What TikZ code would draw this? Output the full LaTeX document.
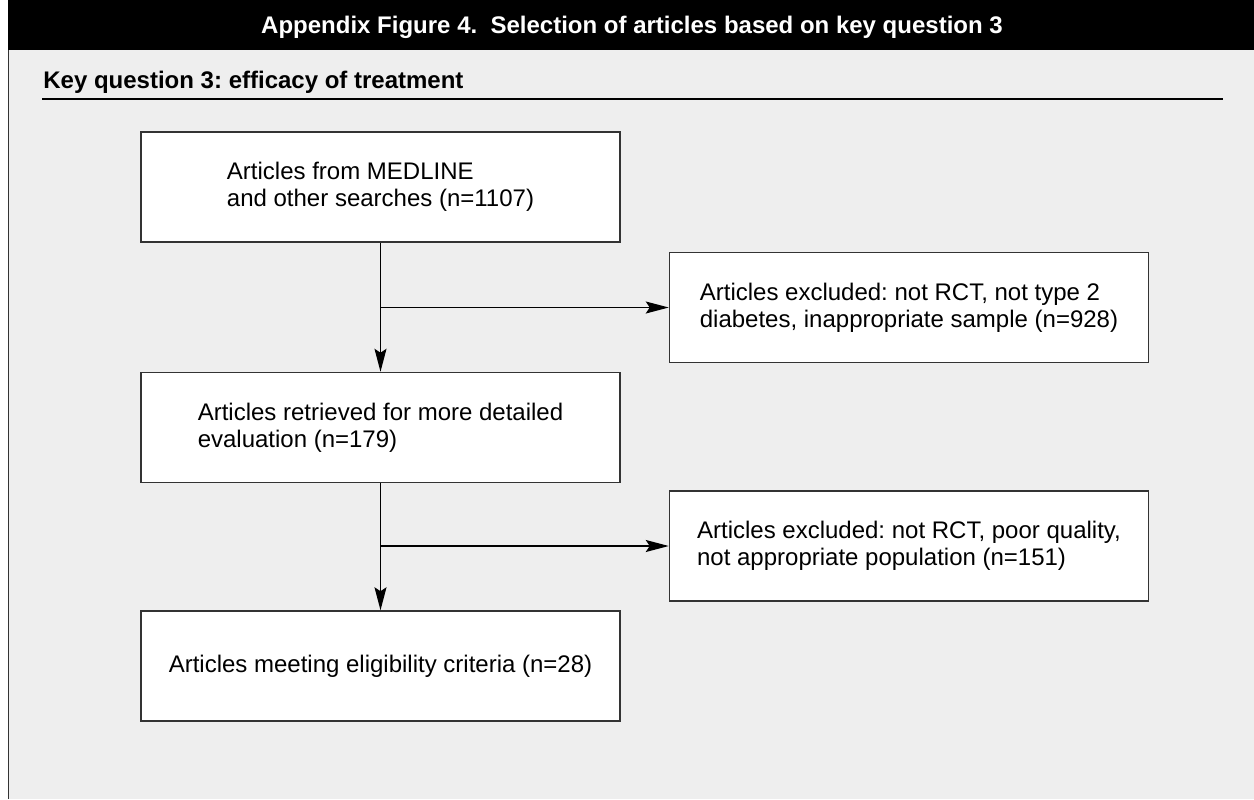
\documentclass[tikz,border=0pt]{standalone}
\usepackage{fontspec}
\setmainfont{Liberation Sans}
\usetikzlibrary{arrows.meta,positioning}
\definecolor{panelGray}{RGB}{238,238,238}
\definecolor{frameInk}{RGB}{51,51,51}
\tikzset{
  box/.style={draw=frameInk, line width=0.75pt, fill=white, align=left, minimum width=239.5pt, minimum height=55pt, inner sep=0pt, font=\fontsize{12}{13.5}\selectfont},
  headtext/.style={inner sep=0pt, font=\fontsize{12}{14}\selectfont\bfseries},
  trunk/.style={line width=0.75pt, draw=black},
  flow/.style={trunk, -{Stealth[length=11.5pt, width=6pt, inset=2pt]}}
}
\frenchspacing

\begin{document}
\begin{tikzpicture}[x=0.5pt, y=-0.5pt]
        \useasboundingbox (0,0) rectangle (1254,799);
        \fill[white] (0,0) rectangle (1254,799);
        \fill[panelGray] (8,50) rectangle (1254,799);
        \fill[black] (8,0) rectangle (1254,50);
        \draw[frameInk, line width=0.5pt] (8,50) -- (8,799);
        \node[headtext, text=white, anchor=base] (title) at (632,33) {Appendix Figure 4.\ \ Selection of articles based on key question 3};
        \node[headtext, anchor=base west] (kq) at (43,88) {Key question 3: efficacy of treatment};
        \draw[black, line width=1pt] (42,99) -- (1223,99);
        % main column
        \node[box] (search) at (380.5,187) {Articles from MEDLINE\\and other searches (n=1107)};
        \node[box, below=64.5pt of search] (retrieved) {Articles retrieved for more detailed\\evaluation (n=179)};
        \node[box, below=63.5pt of retrieved] (eligible) {Articles meeting eligibility criteria (n=28)};
        % exclusions
        \node[box, below right=4.5pt and 24pt of search] (excl1) {Articles excluded: not RCT, not type 2\\diabetes, inappropriate sample (n=928)};
        \node[box, below right=3.5pt and 24pt of retrieved] (excl2) {Articles excluded: not RCT, poor quality,\\not appropriate population (n=151)};
        \coordinate (split1) at (search.south |- excl1.west);
        \coordinate (split2) at (retrieved.south |- excl2.west);
        \draw[flow] (search) -- (retrieved);
        \draw[flow] (retrieved) -- (eligible);
        \draw[flow] (split1) -- (excl1);
        \draw[flow] (split2) -- (excl2);
      \end{tikzpicture}
\end{document}
